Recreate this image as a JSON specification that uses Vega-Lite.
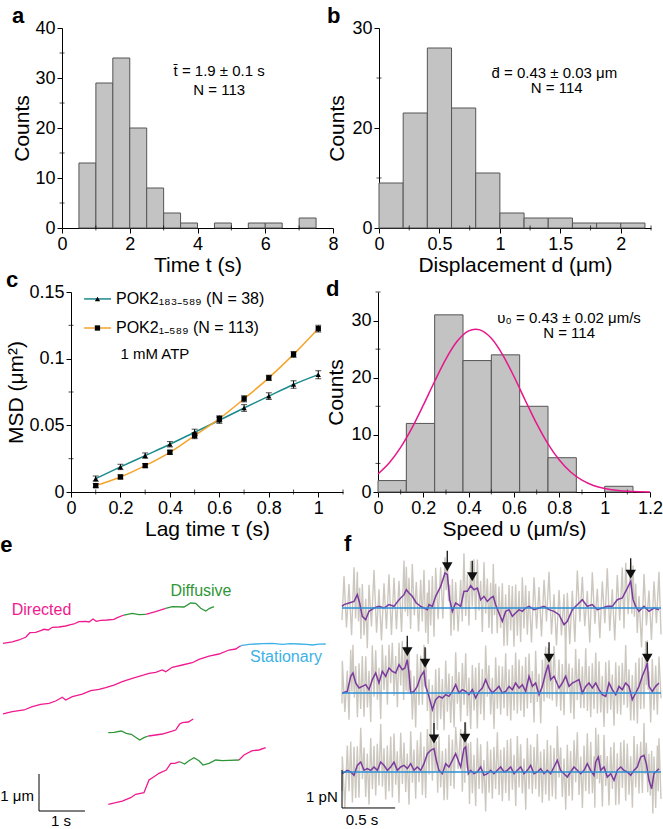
{
"$schema":"https://vega.github.io/schema/vega-lite/v6.json",
"padding":{"left":0,"top":5,"right":0,"bottom":0},
"config":{
 "font":"Liberation Sans",
 "view":{"stroke":null},
 "axis":{"grid":false,"domainColor":"#000","tickColor":"#000","labelColor":"#000","titleColor":"#000","labelFontSize":18,"titleFontSize":21,"titleFontWeight":"normal","tickSize":5,"labelPadding":2,"titlePadding":4,"labelFont":"Liberation Sans","titleFont":"Liberation Sans","labelFlush":false,"labelOverlap":false},
 "axisX":{"titlePadding":1},
 "title":{"fontSize":22,"fontWeight":"bold","anchor":"start","offset":-9,"font":"Liberation Sans","color":"#000"},
 "text":{"font":"Liberation Sans"},
 "tick":{"thickness":1,"color":"#000"}
},
"datasets":{
 "ha":[{"x0":0.5,"x1":1,"n":13},{"x0":1,"x1":1.5,"n":29},{"x0":1.5,"x1":2,"n":34},{"x0":2,"x1":2.5,"n":20},{"x0":2.5,"x1":3,"n":8},{"x0":3,"x1":3.5,"n":3},{"x0":3.5,"x1":4,"n":1},{"x0":4.5,"x1":5,"n":1},{"x0":5.5,"x1":6,"n":1},{"x0":6,"x1":6.5,"n":1},{"x0":7,"x1":7.5,"n":2}],
 "ta":[{"x":4.64,"y":31.4,"s":"t̄ = 1.9 ± 0.1 s"},{"x":4.64,"y":27.6,"s":"N = 113"}],
 "max":[{"v":1},{"v":3},{"v":5},{"v":7}],
 "may":[{"v":5},{"v":15},{"v":25},{"v":35}],
 "hb":[{"x0":0,"x1":0.2,"n":9},{"x0":0.2,"x1":0.4,"n":23},{"x0":0.4,"x1":0.6,"n":36},{"x0":0.6,"x1":0.8,"n":24},{"x0":0.8,"x1":1.0,"n":11},{"x0":1.0,"x1":1.2,"n":3},{"x0":1.2,"x1":1.4,"n":2},{"x0":1.4,"x1":1.6,"n":2},{"x0":1.6,"x1":1.8,"n":1},{"x0":1.8,"x1":2.0,"n":1},{"x0":2.0,"x1":2.2,"n":1}],
 "tb":[{"x":1.45,"y":31,"s":"d̄ = 0.43 ± 0.03 μm"},{"x":1.47,"y":28,"s":"N = 114"}],
 "mbx":[{"v":0.25},{"v":0.75},{"v":1.25},{"v":1.75},{"v":2.25}],
 "mby":[{"v":10},{"v":30}],
 "msd":[
  {"s":"A","t":0.1,"m":0.010,"lo":0.008,"hi":0.012},{"s":"A","t":0.2,"m":0.0188,"lo":0.0168,"hi":0.0208},{"s":"A","t":0.3,"m":0.0273,"lo":0.0253,"hi":0.0293},{"s":"A","t":0.4,"m":0.0358,"lo":0.0338,"hi":0.0378},{"s":"A","t":0.5,"m":0.0448,"lo":0.0425,"hi":0.0471},{"s":"A","t":0.6,"m":0.0538,"lo":0.0515,"hi":0.0561},{"s":"A","t":0.7,"m":0.063,"lo":0.0605,"hi":0.0655},{"s":"A","t":0.8,"m":0.0719,"lo":0.0694,"hi":0.0744},{"s":"A","t":0.9,"m":0.0806,"lo":0.0778,"hi":0.0834},{"s":"A","t":1.0,"m":0.088,"lo":0.085,"hi":0.091},
  {"s":"B","t":0.1,"m":0.0048,"lo":0.0033,"hi":0.0063},{"s":"B","t":0.2,"m":0.0113,"lo":0.0098,"hi":0.0128},{"s":"B","t":0.3,"m":0.0198,"lo":0.0183,"hi":0.0213},{"s":"B","t":0.4,"m":0.0298,"lo":0.0283,"hi":0.0313},{"s":"B","t":0.5,"m":0.0423,"lo":0.0400,"hi":0.0446},{"s":"B","t":0.6,"m":0.055,"lo":0.0528,"hi":0.0572},{"s":"B","t":0.7,"m":0.0699,"lo":0.0676,"hi":0.0722},{"s":"B","t":0.8,"m":0.0856,"lo":0.0836,"hi":0.0876},{"s":"B","t":0.9,"m":0.1032,"lo":0.1010,"hi":0.1054},{"s":"B","t":1.0,"m":0.1225,"lo":0.1200,"hi":0.1250}],
 "lg":[{"s":"A","x0":0.053,"x1":0.162,"xm":0.107,"xt":0.182,"y":0.1448,"txt":"POK2₁₈₃₋₅₈₉  (N = 38)"},{"s":"B","x0":0.053,"x1":0.162,"xm":0.107,"xt":0.182,"y":0.123,"txt":"POK2₁₋₅₈₉ (N = 113)"}],
 "tc":[{"x":0.2,"y":0.1035,"s":"1 mM ATP"}],
 "mcx":[{"v":0.1},{"v":0.3},{"v":0.5},{"v":0.7},{"v":0.9},{"v":1.1}],
 "mcy":[{"v":0.025},{"v":0.075},{"v":0.125}],
 "hd":[{"x0":0,"x1":0.125,"n":2},{"x0":0.125,"x1":0.25,"n":12},{"x0":0.25,"x1":0.375,"n":31},{"x0":0.375,"x1":0.5,"n":23},{"x0":0.5,"x1":0.625,"n":24},{"x0":0.625,"x1":0.75,"n":15},{"x0":0.75,"x1":0.875,"n":6},{"x0":1.0,"x1":1.125,"n":1}],
 "fit":[{"x":0,"y":3.16},{"x":0.05,"y":5.11},{"x":0.1,"y":7.8},{"x":0.15,"y":11.21},{"x":0.2,"y":15.19},{"x":0.25,"y":19.38},{"x":0.3,"y":23.31},{"x":0.35,"y":26.41},{"x":0.4,"y":28.2},{"x":0.43,"y":28.5},{"x":0.45,"y":28.37},{"x":0.5,"y":26.89},{"x":0.55,"y":24.01},{"x":0.6,"y":20.21},{"x":0.65,"y":16.02},{"x":0.7,"y":11.97},{"x":0.75,"y":8.43},{"x":0.8,"y":5.59},{"x":0.85,"y":3.49},{"x":0.9,"y":2.06},{"x":0.95,"y":1.14},{"x":1.0,"y":0.6},{"x":1.05,"y":0.29},{"x":1.1,"y":0.14},{"x":1.15,"y":0.06},{"x":1.2,"y":0.02}],
 "td":[{"x":0.843,"y":30.45,"s":"υ₀ = 0.43 ± 0.02 μm/s"},{"x":0.843,"y":27.8,"s":"N = 114"}],
 "mdx":[{"v":0.1},{"v":0.3},{"v":0.5},{"v":0.7},{"v":0.9},{"v":1.1}],
 "mdy":[{"v":5},{"v":15},{"v":25},{"v":35}],
 "et":[
  {"g":"A","k":"Directed","t":0,"y":4.559},{"g":"A","k":"Directed","t":0.202,"y":4.595},{"g":"A","k":"Directed","t":0.348,"y":4.649},{"g":"A","k":"Directed","t":0.493,"y":4.722},{"g":"A","k":"Directed","t":0.587,"y":4.846},{"g":"A","k":"Directed","t":0.711,"y":4.857},{"g":"A","k":"Directed","t":0.82,"y":4.9},{"g":"A","k":"Directed","t":0.891,"y":4.938},{"g":"A","k":"Directed","t":0.985,"y":4.919},{"g":"A","k":"Directed","t":1.072,"y":4.992},{"g":"A","k":"Directed","t":1.217,"y":5.0},{"g":"A","k":"Directed","t":1.363,"y":5.027},{"g":"A","k":"Directed","t":1.472,"y":5.062},{"g":"A","k":"Directed","t":1.543,"y":5.081},{"g":"A","k":"Directed","t":1.652,"y":5.143},{"g":"A","k":"Directed","t":1.798,"y":5.154},{"g":"A","k":"Directed","t":1.87,"y":5.135},{"g":"A","k":"Directed","t":1.957,"y":5.216},{"g":"A","k":"Directed","t":2.028,"y":5.154},{"g":"A","k":"Directed","t":2.124,"y":5.181},{"g":"A","k":"Directed","t":2.267,"y":5.189},{"g":"A","k":"Directed","t":2.413,"y":5.208},{"g":"A","k":"Directed","t":2.485,"y":5.251},{"g":"A","k":"Directed","t":2.63,"y":5.324},
  {"g":"B","k":"Diffusive","t":2.63,"y":5.324},{"g":"B","k":"Diffusive","t":2.811,"y":5.37},{"g":"B","k":"Diffusive","t":2.957,"y":5.332},{"g":"B","k":"Diffusive","t":3.102,"y":5.343},
  {"g":"C","k":"Directed","t":3.102,"y":5.343},{"g":"C","k":"Directed","t":3.32,"y":5.414},{"g":"C","k":"Directed","t":3.537,"y":5.505},
  {"g":"D","k":"Diffusive","t":3.537,"y":5.505},{"g":"D","k":"Diffusive","t":3.68,"y":5.549},{"g":"D","k":"Diffusive","t":3.935,"y":5.541},{"g":"D","k":"Diffusive","t":4.08,"y":5.649},{"g":"D","k":"Diffusive","t":4.189,"y":5.641},{"g":"D","k":"Diffusive","t":4.298,"y":5.505},{"g":"D","k":"Diffusive","t":4.407,"y":5.432},{"g":"D","k":"Diffusive","t":4.493,"y":5.505},{"g":"D","k":"Diffusive","t":4.587,"y":5.549},
  {"g":"E","k":"Directed","t":0,"y":2.649},{"g":"E","k":"Directed","t":0.202,"y":2.711},{"g":"E","k":"Directed","t":0.457,"y":2.757},{"g":"E","k":"Directed","t":0.637,"y":2.846},{"g":"E","k":"Directed","t":0.82,"y":2.911},{"g":"E","k":"Directed","t":1.0,"y":2.938},{"g":"E","k":"Directed","t":1.146,"y":3.0},{"g":"E","k":"Directed","t":1.289,"y":3.1},{"g":"E","k":"Directed","t":1.363,"y":3.027},{"g":"E","k":"Directed","t":1.507,"y":3.116},{"g":"E","k":"Directed","t":1.724,"y":3.189},{"g":"E","k":"Directed","t":1.907,"y":3.278},{"g":"E","k":"Directed","t":2.087,"y":3.316},{"g":"E","k":"Directed","t":2.233,"y":3.359},{"g":"E","k":"Directed","t":2.413,"y":3.432},{"g":"E","k":"Directed","t":2.593,"y":3.522},{"g":"E","k":"Directed","t":2.811,"y":3.614},{"g":"E","k":"Directed","t":3.065,"y":3.703},{"g":"E","k":"Directed","t":3.174,"y":3.749},{"g":"E","k":"Directed","t":3.32,"y":3.776},{"g":"E","k":"Directed","t":3.463,"y":3.838},{"g":"E","k":"Directed","t":3.537,"y":3.792},{"g":"E","k":"Directed","t":3.68,"y":3.911},{"g":"E","k":"Directed","t":3.898,"y":3.973},{"g":"E","k":"Directed","t":4.115,"y":4.035},{"g":"E","k":"Directed","t":4.261,"y":4.127},{"g":"E","k":"Directed","t":4.478,"y":4.216},{"g":"E","k":"Directed","t":4.696,"y":4.27},{"g":"E","k":"Directed","t":4.913,"y":4.378},{"g":"E","k":"Directed","t":5.059,"y":4.405},{"g":"E","k":"Directed","t":5.167,"y":4.495},
  {"g":"F","k":"Stationary","t":5.167,"y":4.495},{"g":"F","k":"Stationary","t":5.35,"y":4.53},{"g":"F","k":"Stationary","t":5.493,"y":4.541},{"g":"F","k":"Stationary","t":5.65,"y":4.55},{"g":"F","k":"Stationary","t":5.854,"y":4.559},{"g":"F","k":"Stationary","t":6.072,"y":4.532},{"g":"F","k":"Stationary","t":6.25,"y":4.55},{"g":"F","k":"Stationary","t":6.435,"y":4.541},{"g":"F","k":"Stationary","t":6.6,"y":4.53},{"g":"F","k":"Stationary","t":6.724,"y":4.514},{"g":"F","k":"Stationary","t":6.87,"y":4.535},{"g":"F","k":"Stationary","t":7.015,"y":4.541},
  {"g":"G","k":"Diffusive","t":2.289,"y":2.143},{"g":"G","k":"Diffusive","t":2.413,"y":2.154},{"g":"G","k":"Diffusive","t":2.572,"y":2.189},{"g":"G","k":"Diffusive","t":2.68,"y":2.127},{"g":"G","k":"Diffusive","t":2.789,"y":2.1},{"g":"G","k":"Diffusive","t":2.972,"y":1.946},{"g":"G","k":"Diffusive","t":3.065,"y":2.008},{"g":"G","k":"Diffusive","t":3.159,"y":2.054},
  {"g":"H","k":"Directed","t":3.159,"y":2.054},{"g":"H","k":"Directed","t":3.32,"y":2.081},{"g":"H","k":"Directed","t":3.463,"y":2.108},{"g":"H","k":"Directed","t":3.609,"y":2.162},{"g":"H","k":"Directed","t":3.754,"y":2.216},{"g":"H","k":"Directed","t":3.841,"y":2.378},{"g":"H","k":"Directed","t":3.898,"y":2.414},{"g":"H","k":"Directed","t":4.028,"y":2.432},{"g":"H","k":"Directed","t":4.137,"y":2.514},
  {"g":"I","k":"Directed","t":2.289,"y":0.208},{"g":"I","k":"Directed","t":2.45,"y":0.251},{"g":"I","k":"Directed","t":2.593,"y":0.297},{"g":"I","k":"Directed","t":2.776,"y":0.386},{"g":"I","k":"Directed","t":2.885,"y":0.478},{"g":"I","k":"Directed","t":3.065,"y":0.522},{"g":"I","k":"Directed","t":3.174,"y":0.865},{"g":"I","k":"Directed","t":3.283,"y":0.954},{"g":"I","k":"Directed","t":3.391,"y":1.046},{"g":"I","k":"Directed","t":3.55,"y":1.135},{"g":"I","k":"Directed","t":3.646,"y":1.316},{"g":"I","k":"Directed","t":3.739,"y":1.316},{"g":"I","k":"Directed","t":3.841,"y":1.359},
  {"g":"J","k":"Diffusive","t":3.841,"y":1.359},{"g":"J","k":"Diffusive","t":3.95,"y":1.297},{"g":"J","k":"Diffusive","t":4.043,"y":1.386},{"g":"J","k":"Diffusive","t":4.152,"y":1.468},{"g":"J","k":"Diffusive","t":4.261,"y":1.386},{"g":"J","k":"Diffusive","t":4.348,"y":1.27},{"g":"J","k":"Diffusive","t":4.478,"y":1.316},{"g":"J","k":"Diffusive","t":4.624,"y":1.405},{"g":"J","k":"Diffusive","t":4.767,"y":1.386},{"g":"J","k":"Diffusive","t":4.913,"y":1.397},{"g":"J","k":"Diffusive","t":5.13,"y":1.405},
  {"g":"K","k":"Directed","t":5.13,"y":1.405},{"g":"K","k":"Directed","t":5.239,"y":1.541},{"g":"K","k":"Directed","t":5.42,"y":1.657},{"g":"K","k":"Directed","t":5.565,"y":1.676},{"g":"K","k":"Directed","t":5.711,"y":1.738}],
 "el":[{"t":0.837,"y":5.46,"k":"Directed"},{"t":4.304,"y":5.97,"k":"Diffusive"},{"t":6.152,"y":4.19,"k":"Stationary"}],
 "esb":[{"x0":0.783,"x1":0.783,"y0":0.027,"y1":1.027},{"x0":0.783,"x1":1.783,"y0":0.027,"y1":0.027}],
 "etr":[{"t":0.674,"y":0.43,"s":"1 μm"}],
 "etc":[{"t":1.26,"y":-0.24,"s":"1 s"}],
 "fg":[
  {"k":1,"t":0,"v":4.0},{"k":1,"t":0.019,"v":5.154},{"k":1,"t":0.042,"v":3.804},{"k":1,"t":0.066,"v":4.948},{"k":1,"t":0.09,"v":3.598},{"k":1,"t":0.113,"v":5.391},{"k":1,"t":0.128,"v":4.041},{"k":1,"t":0.144,"v":5.267},{"k":1,"t":0.155,"v":3.967},{"k":1,"t":0.166,"v":4.848},{"k":1,"t":0.178,"v":3.498},{"k":1,"t":0.191,"v":4.947},{"k":1,"t":0.207,"v":3.597},{"k":1,"t":0.223,"v":4.559},{"k":1,"t":0.238,"v":3.259},{"k":1,"t":0.254,"v":4.928},{"k":1,"t":0.277,"v":3.828},{"k":1,"t":0.301,"v":5.316},{"k":1,"t":0.325,"v":3.666},{"k":1,"t":0.348,"v":4.81},{"k":1,"t":0.371,"v":3.46},{"k":1,"t":0.395,"v":4.966},{"k":1,"t":0.418,"v":3.766},{"k":1,"t":0.442,"v":5.204},{"k":1,"t":0.465,"v":3.604},{"k":1,"t":0.489,"v":5.11},{"k":1,"t":0.512,"v":3.76},{"k":1,"t":0.536,"v":5.035},{"k":1,"t":0.56,"v":3.685},{"k":1,"t":0.583,"v":5.567},{"k":1,"t":0.594,"v":4.217},{"k":1,"t":0.605,"v":5.398},{"k":1,"t":0.617,"v":4.098},{"k":1,"t":0.63,"v":5.111},{"k":1,"t":0.645,"v":3.761},{"k":1,"t":0.661,"v":5.473},{"k":1,"t":0.68,"v":4.123},{"k":1,"t":0.699,"v":4.998},{"k":1,"t":0.72,"v":3.698},{"k":1,"t":0.74,"v":5.06},{"k":1,"t":0.755,"v":3.96},{"k":1,"t":0.771,"v":5.316},{"k":1,"t":0.787,"v":3.666},{"k":1,"t":0.803,"v":4.722},{"k":1,"t":0.81,"v":3.372},{"k":1,"t":0.818,"v":5.054},{"k":1,"t":0.834,"v":3.854},{"k":1,"t":0.85,"v":5.16},{"k":1,"t":0.865,"v":3.56},{"k":1,"t":0.881,"v":5.373},{"k":1,"t":0.904,"v":4.023},{"k":1,"t":0.928,"v":5.386},{"k":1,"t":0.948,"v":4.036},{"k":1,"t":0.969,"v":5.65},{"k":1,"t":0.98,"v":4.787},{"k":1,"t":0.991,"v":5.593},{"k":1,"t":1.002,"v":4.493},{"k":1,"t":1.013,"v":4.935},{"k":1,"t":1.025,"v":3.585},{"k":1,"t":1.038,"v":5.078},{"k":1,"t":1.053,"v":3.728},{"k":1,"t":1.069,"v":4.998},{"k":1,"t":1.092,"v":3.698},{"k":1,"t":1.116,"v":5.06},{"k":1,"t":1.131,"v":3.96},{"k":1,"t":1.147,"v":5.755},{"k":1,"t":1.163,"v":4.105},{"k":1,"t":1.179,"v":5.205},{"k":1,"t":1.194,"v":3.855},{"k":1,"t":1.21,"v":5.554},{"k":1,"t":1.225,"v":4.354},{"k":1,"t":1.241,"v":5.598},{"k":1,"t":1.257,"v":3.998},{"k":1,"t":1.273,"v":5.592},{"k":1,"t":1.288,"v":4.242},{"k":1,"t":1.304,"v":5.035},{"k":1,"t":1.32,"v":3.685},{"k":1,"t":1.335,"v":5.523},{"k":1,"t":1.351,"v":4.173},{"k":1,"t":1.367,"v":5.091},{"k":1,"t":1.382,"v":3.791},{"k":1,"t":1.398,"v":4.979},{"k":1,"t":1.41,"v":3.629},{"k":1,"t":1.423,"v":5.473},{"k":1,"t":1.434,"v":4.123},{"k":1,"t":1.445,"v":4.954},{"k":1,"t":1.46,"v":3.654},{"k":1,"t":1.476,"v":4.884},{"k":1,"t":1.492,"v":3.784},{"k":1,"t":1.508,"v":4.965},{"k":1,"t":1.523,"v":3.315},{"k":1,"t":1.539,"v":4.678},{"k":1,"t":1.555,"v":3.328},{"k":1,"t":1.571,"v":4.922},{"k":1,"t":1.586,"v":3.722},{"k":1,"t":1.602,"v":4.897},{"k":1,"t":1.617,"v":3.297},{"k":1,"t":1.633,"v":4.934},{"k":1,"t":1.649,"v":3.584},{"k":1,"t":1.665,"v":4.772},{"k":1,"t":1.68,"v":3.422},{"k":1,"t":1.696,"v":5.128},{"k":1,"t":1.711,"v":3.778},{"k":1,"t":1.727,"v":4.916},{"k":1,"t":1.743,"v":3.616},{"k":1,"t":1.759,"v":4.76},{"k":1,"t":1.782,"v":3.41},{"k":1,"t":1.806,"v":5.122},{"k":1,"t":1.83,"v":3.772},{"k":1,"t":1.853,"v":4.866},{"k":1,"t":1.876,"v":3.566},{"k":1,"t":1.9,"v":5.06},{"k":1,"t":1.923,"v":3.96},{"k":1,"t":1.947,"v":5.272},{"k":1,"t":1.97,"v":3.622},{"k":1,"t":1.994,"v":4.678},{"k":1,"t":2.017,"v":3.328},{"k":1,"t":2.041,"v":4.791},{"k":1,"t":2.064,"v":3.591},{"k":1,"t":2.088,"v":4.677},{"k":1,"t":2.103,"v":3.077},{"k":1,"t":2.119,"v":4.715},{"k":1,"t":2.142,"v":3.365},{"k":1,"t":2.166,"v":4.772},{"k":1,"t":2.19,"v":3.422},{"k":1,"t":2.213,"v":5.304},{"k":1,"t":2.237,"v":3.954},{"k":1,"t":2.26,"v":5.135},{"k":1,"t":2.283,"v":3.835},{"k":1,"t":2.307,"v":4.76},{"k":1,"t":2.33,"v":3.41},{"k":1,"t":2.354,"v":5.254},{"k":1,"t":2.378,"v":3.904},{"k":1,"t":2.401,"v":4.822},{"k":1,"t":2.425,"v":3.522},{"k":1,"t":2.448,"v":5.016},{"k":1,"t":2.472,"v":3.916},{"k":1,"t":2.495,"v":5.36},{"k":1,"t":2.518,"v":3.71},{"k":1,"t":2.542,"v":4.81},{"k":1,"t":2.565,"v":3.46},{"k":1,"t":2.589,"v":5.185},{"k":1,"t":2.612,"v":3.985},{"k":1,"t":2.636,"v":5.379},{"k":1,"t":2.652,"v":3.779},{"k":1,"t":2.668,"v":5.505},{"k":1,"t":2.691,"v":4.155},{"k":1,"t":2.715,"v":5.518},{"k":1,"t":2.726,"v":4.168},{"k":1,"t":2.737,"v":5.435},{"k":1,"t":2.75,"v":4.085},{"k":1,"t":2.762,"v":4.96},{"k":1,"t":2.777,"v":3.66},{"k":1,"t":2.793,"v":4.628},{"k":1,"t":2.817,"v":3.278},{"k":1,"t":2.84,"v":5.21},{"k":1,"t":2.863,"v":3.86},{"k":1,"t":2.887,"v":4.778},{"k":1,"t":2.91,"v":3.478},{"k":1,"t":2.934,"v":5.016},{"k":1,"t":2.957,"v":3.916},{"k":1,"t":2.981,"v":5.272},{"k":1,"t":3.0,"v":3.622},
  {"k":2,"t":0,"v":1.8},{"k":2,"t":0.003,"v":2.929},{"k":2,"t":0.027,"v":1.579},{"k":2,"t":0.05,"v":2.673},{"k":2,"t":0.066,"v":1.373},{"k":2,"t":0.082,"v":3.218},{"k":2,"t":0.093,"v":2.118},{"k":2,"t":0.103,"v":3.35},{"k":2,"t":0.116,"v":1.955},{"k":2,"t":0.129,"v":2.792},{"k":2,"t":0.145,"v":1.442},{"k":2,"t":0.16,"v":2.861},{"k":2,"t":0.176,"v":1.661},{"k":2,"t":0.191,"v":3.054},{"k":2,"t":0.207,"v":1.454},{"k":2,"t":0.223,"v":3.048},{"k":2,"t":0.239,"v":1.698},{"k":2,"t":0.254,"v":2.667},{"k":2,"t":0.27,"v":1.317},{"k":2,"t":0.285,"v":3.33},{"k":2,"t":0.301,"v":1.98},{"k":2,"t":0.317,"v":3.205},{"k":2,"t":0.333,"v":1.905},{"k":2,"t":0.348,"v":2.742},{"k":2,"t":0.364,"v":1.392},{"k":2,"t":0.379,"v":3.35},{"k":2,"t":0.395,"v":2.149},{"k":2,"t":0.411,"v":3.068},{"k":2,"t":0.427,"v":1.768},{"k":2,"t":0.442,"v":3.35},{"k":2,"t":0.458,"v":2.337},{"k":2,"t":0.473,"v":3.4},{"k":2,"t":0.489,"v":1.999},{"k":2,"t":0.505,"v":3.055},{"k":2,"t":0.521,"v":1.705},{"k":2,"t":0.536,"v":3.4},{"k":2,"t":0.552,"v":2.275},{"k":2,"t":0.567,"v":3.45},{"k":2,"t":0.58,"v":1.893},{"k":2,"t":0.592,"v":3.3},{"k":2,"t":0.603,"v":2.137},{"k":2,"t":0.614,"v":3.456},{"k":2,"t":0.622,"v":2.106},{"k":2,"t":0.63,"v":3.3},{"k":2,"t":0.638,"v":2.155},{"k":2,"t":0.646,"v":2.679},{"k":2,"t":0.662,"v":1.379},{"k":2,"t":0.677,"v":2.523},{"k":2,"t":0.693,"v":1.173},{"k":2,"t":0.708,"v":3.104},{"k":2,"t":0.724,"v":1.754},{"k":2,"t":0.74,"v":3.068},{"k":2,"t":0.756,"v":1.768},{"k":2,"t":0.771,"v":3.349},{"k":2,"t":0.779,"v":2.249},{"k":2,"t":0.787,"v":3.254},{"k":2,"t":0.803,"v":1.604},{"k":2,"t":0.818,"v":2.441},{"k":2,"t":0.834,"v":1.091},{"k":2,"t":0.85,"v":2.29},{"k":2,"t":0.866,"v":1.09},{"k":2,"t":0.881,"v":2.704},{"k":2,"t":0.897,"v":1.104},{"k":2,"t":0.912,"v":2.741},{"k":2,"t":0.928,"v":1.391},{"k":2,"t":0.944,"v":2.447},{"k":2,"t":0.96,"v":1.097},{"k":2,"t":0.975,"v":2.935},{"k":2,"t":0.991,"v":1.585},{"k":2,"t":1.006,"v":2.591},{"k":2,"t":1.022,"v":1.291},{"k":2,"t":1.038,"v":2.523},{"k":2,"t":1.054,"v":1.173},{"k":2,"t":1.069,"v":3.148},{"k":2,"t":1.085,"v":1.798},{"k":2,"t":1.1,"v":2.629},{"k":2,"t":1.116,"v":1.329},{"k":2,"t":1.132,"v":2.867},{"k":2,"t":1.148,"v":1.767},{"k":2,"t":1.163,"v":3.123},{"k":2,"t":1.179,"v":1.473},{"k":2,"t":1.194,"v":2.485},{"k":2,"t":1.21,"v":1.135},{"k":2,"t":1.226,"v":2.817},{"k":2,"t":1.242,"v":1.617},{"k":2,"t":1.257,"v":2.747},{"k":2,"t":1.273,"v":1.147},{"k":2,"t":1.288,"v":2.873},{"k":2,"t":1.304,"v":1.523},{"k":2,"t":1.32,"v":2.711},{"k":2,"t":1.336,"v":1.361},{"k":2,"t":1.351,"v":3.33},{"k":2,"t":1.367,"v":1.98},{"k":2,"t":1.382,"v":2.811},{"k":2,"t":1.398,"v":1.511},{"k":2,"t":1.414,"v":2.479},{"k":2,"t":1.43,"v":1.129},{"k":2,"t":1.445,"v":3.017},{"k":2,"t":1.461,"v":1.667},{"k":2,"t":1.476,"v":2.804},{"k":2,"t":1.492,"v":1.504},{"k":2,"t":1.508,"v":2.779},{"k":2,"t":1.524,"v":1.679},{"k":2,"t":1.539,"v":3.123},{"k":2,"t":1.555,"v":1.473},{"k":2,"t":1.571,"v":2.704},{"k":2,"t":1.587,"v":1.354},{"k":2,"t":1.602,"v":2.817},{"k":2,"t":1.618,"v":1.617},{"k":2,"t":1.633,"v":3.142},{"k":2,"t":1.649,"v":1.542},{"k":2,"t":1.665,"v":2.961},{"k":2,"t":1.681,"v":1.611},{"k":2,"t":1.696,"v":2.798},{"k":2,"t":1.712,"v":1.448},{"k":2,"t":1.727,"v":3.023},{"k":2,"t":1.743,"v":1.673},{"k":2,"t":1.759,"v":3.118},{"k":2,"t":1.775,"v":1.818},{"k":2,"t":1.79,"v":2.654},{"k":2,"t":1.806,"v":1.304},{"k":2,"t":1.821,"v":3.192},{"k":2,"t":1.837,"v":1.842},{"k":2,"t":1.853,"v":2.585},{"k":2,"t":1.869,"v":1.285},{"k":2,"t":1.884,"v":2.954},{"k":2,"t":1.9,"v":1.854},{"k":2,"t":1.915,"v":3.3},{"k":2,"t":1.928,"v":1.955},{"k":2,"t":1.94,"v":3.275},{"k":2,"t":1.951,"v":1.925},{"k":2,"t":1.962,"v":3.08},{"k":2,"t":1.978,"v":1.88},{"k":2,"t":1.994,"v":3.318},{"k":2,"t":2.018,"v":1.718},{"k":2,"t":2.041,"v":2.961},{"k":2,"t":2.057,"v":1.611},{"k":2,"t":2.072,"v":2.842},{"k":2,"t":2.088,"v":1.492},{"k":2,"t":2.103,"v":3.35},{"k":2,"t":2.119,"v":2.068},{"k":2,"t":2.135,"v":2.854},{"k":2,"t":2.151,"v":1.554},{"k":2,"t":2.166,"v":2.742},{"k":2,"t":2.182,"v":1.392},{"k":2,"t":2.197,"v":3.236},{"k":2,"t":2.213,"v":1.886},{"k":2,"t":2.229,"v":2.98},{"k":2,"t":2.245,"v":1.68},{"k":2,"t":2.26,"v":2.779},{"k":2,"t":2.276,"v":1.679},{"k":2,"t":2.292,"v":3.254},{"k":2,"t":2.308,"v":1.604},{"k":2,"t":2.323,"v":2.792},{"k":2,"t":2.339,"v":1.442},{"k":2,"t":2.354,"v":2.861},{"k":2,"t":2.37,"v":1.661},{"k":2,"t":2.386,"v":3.142},{"k":2,"t":2.402,"v":1.542},{"k":2,"t":2.417,"v":2.917},{"k":2,"t":2.433,"v":1.567},{"k":2,"t":2.448,"v":2.535},{"k":2,"t":2.464,"v":1.185},{"k":2,"t":2.48,"v":2.891},{"k":2,"t":2.496,"v":1.541},{"k":2,"t":2.511,"v":2.942},{"k":2,"t":2.527,"v":1.642},{"k":2,"t":2.542,"v":2.567},{"k":2,"t":2.558,"v":1.217},{"k":2,"t":2.574,"v":2.885},{"k":2,"t":2.59,"v":1.535},{"k":2,"t":2.605,"v":2.804},{"k":2,"t":2.621,"v":1.504},{"k":2,"t":2.636,"v":2.867},{"k":2,"t":2.652,"v":1.767},{"k":2,"t":2.668,"v":3.342},{"k":2,"t":2.684,"v":1.692},{"k":2,"t":2.699,"v":2.704},{"k":2,"t":2.715,"v":1.354},{"k":2,"t":2.73,"v":2.554},{"k":2,"t":2.746,"v":1.354},{"k":2,"t":2.762,"v":2.879},{"k":2,"t":2.778,"v":1.279},{"k":2,"t":2.793,"v":3.004},{"k":2,"t":2.809,"v":1.654},{"k":2,"t":2.824,"v":3.018},{"k":2,"t":2.84,"v":1.668},{"k":2,"t":2.856,"v":3.45},{"k":2,"t":2.863,"v":2.287},{"k":2,"t":2.871,"v":3.468},{"k":2,"t":2.879,"v":2.168},{"k":2,"t":2.887,"v":2.654},{"k":2,"t":2.903,"v":1.304},{"k":2,"t":2.918,"v":2.973},{"k":2,"t":2.934,"v":1.623},{"k":2,"t":2.95,"v":2.804},{"k":2,"t":2.966,"v":1.504},{"k":2,"t":2.981,"v":3.042},{"k":2,"t":3.0,"v":1.942},
  {"k":3,"t":0,"v":-0.5},{"k":3,"t":0.003,"v":0.406},{"k":3,"t":0.027,"v":-0.944},{"k":3,"t":0.05,"v":0.694},{"k":3,"t":0.066,"v":-0.506},{"k":3,"t":0.082,"v":0.8},{"k":3,"t":0.098,"v":-0.8},{"k":3,"t":0.113,"v":0.662},{"k":3,"t":0.129,"v":-0.688},{"k":3,"t":0.144,"v":0.675},{"k":3,"t":0.16,"v":-0.675},{"k":3,"t":0.176,"v":1.163},{"k":3,"t":0.192,"v":-0.187},{"k":3,"t":0.207,"v":0.644},{"k":3,"t":0.223,"v":-0.656},{"k":3,"t":0.238,"v":0.488},{"k":3,"t":0.254,"v":-0.862},{"k":3,"t":0.27,"v":0.894},{"k":3,"t":0.286,"v":-0.456},{"k":3,"t":0.301,"v":0.682},{"k":3,"t":0.317,"v":-0.618},{"k":3,"t":0.332,"v":0.744},{"k":3,"t":0.348,"v":-0.356},{"k":3,"t":0.364,"v":1.263},{"k":3,"t":0.38,"v":-0.387},{"k":3,"t":0.395,"v":0.625},{"k":3,"t":0.411,"v":-0.725},{"k":3,"t":0.426,"v":0.694},{"k":3,"t":0.442,"v":-0.506},{"k":3,"t":0.458,"v":0.932},{"k":3,"t":0.474,"v":-0.668},{"k":3,"t":0.489,"v":1.013},{"k":3,"t":0.505,"v":-0.337},{"k":3,"t":0.52,"v":0.544},{"k":3,"t":0.536,"v":-0.806},{"k":3,"t":0.552,"v":1.032},{"k":3,"t":0.568,"v":-0.318},{"k":3,"t":0.583,"v":0.775},{"k":3,"t":0.599,"v":-0.525},{"k":3,"t":0.614,"v":0.488},{"k":3,"t":0.63,"v":-0.862},{"k":3,"t":0.646,"v":1.069},{"k":3,"t":0.662,"v":-0.281},{"k":3,"t":0.677,"v":0.594},{"k":3,"t":0.693,"v":-0.706},{"k":3,"t":0.708,"v":0.832},{"k":3,"t":0.724,"v":-0.268},{"k":3,"t":0.74,"v":1.044},{"k":3,"t":0.756,"v":-0.606},{"k":3,"t":0.771,"v":0.669},{"k":3,"t":0.787,"v":-0.681},{"k":3,"t":0.803,"v":1.132},{"k":3,"t":0.819,"v":-0.068},{"k":3,"t":0.834,"v":1.37},{"k":3,"t":0.85,"v":-0.23},{"k":3,"t":0.865,"v":1.364},{"k":3,"t":0.876,"v":0.014},{"k":3,"t":0.887,"v":0.807},{"k":3,"t":0.9,"v":-0.543},{"k":3,"t":0.912,"v":0.944},{"k":3,"t":0.928,"v":-0.406},{"k":3,"t":0.944,"v":0.556},{"k":3,"t":0.96,"v":-0.744},{"k":3,"t":0.975,"v":0.619},{"k":3,"t":0.991,"v":-0.731},{"k":3,"t":1.006,"v":0.982},{"k":3,"t":1.022,"v":-0.368},{"k":3,"t":1.038,"v":0.857},{"k":3,"t":1.054,"v":-0.443},{"k":3,"t":1.069,"v":1.182},{"k":3,"t":1.093,"v":0.082},{"k":3,"t":1.116,"v":1.132},{"k":3,"t":1.132,"v":-0.518},{"k":3,"t":1.147,"v":1.064},{"k":3,"t":1.155,"v":-0.286},{"k":3,"t":1.163,"v":1.308},{"k":3,"t":1.176,"v":0.108},{"k":3,"t":1.188,"v":0.756},{"k":3,"t":1.199,"v":-0.844},{"k":3,"t":1.21,"v":0.794},{"k":3,"t":1.226,"v":-0.556},{"k":3,"t":1.241,"v":0.456},{"k":3,"t":1.257,"v":-0.894},{"k":3,"t":1.273,"v":0.9},{"k":3,"t":1.289,"v":-0.45},{"k":3,"t":1.304,"v":0.732},{"k":3,"t":1.32,"v":-0.568},{"k":3,"t":1.335,"v":0.312},{"k":3,"t":1.351,"v":-1.038},{"k":3,"t":1.367,"v":0.806},{"k":3,"t":1.383,"v":-0.544},{"k":3,"t":1.398,"v":0.594},{"k":3,"t":1.414,"v":-0.706},{"k":3,"t":1.429,"v":0.656},{"k":3,"t":1.445,"v":-0.444},{"k":3,"t":1.461,"v":1.044},{"k":3,"t":1.477,"v":-0.606},{"k":3,"t":1.492,"v":0.582},{"k":3,"t":1.508,"v":-0.768},{"k":3,"t":1.524,"v":0.65},{"k":3,"t":1.54,"v":-0.55},{"k":3,"t":1.555,"v":0.844},{"k":3,"t":1.571,"v":-0.756},{"k":3,"t":1.586,"v":0.882},{"k":3,"t":1.602,"v":-0.468},{"k":3,"t":1.618,"v":0.456},{"k":3,"t":1.634,"v":-0.894},{"k":3,"t":1.649,"v":0.944},{"k":3,"t":1.665,"v":-0.406},{"k":3,"t":1.68,"v":0.732},{"k":3,"t":1.696,"v":-0.568},{"k":3,"t":1.712,"v":0.356},{"k":3,"t":1.728,"v":-0.994},{"k":3,"t":1.743,"v":0.894},{"k":3,"t":1.759,"v":-0.456},{"k":3,"t":1.774,"v":0.725},{"k":3,"t":1.79,"v":-0.575},{"k":3,"t":1.806,"v":0.656},{"k":3,"t":1.822,"v":-0.444},{"k":3,"t":1.837,"v":1.0},{"k":3,"t":1.853,"v":-0.65},{"k":3,"t":1.868,"v":0.538},{"k":3,"t":1.884,"v":-0.812},{"k":3,"t":1.9,"v":0.606},{"k":3,"t":1.916,"v":-0.594},{"k":3,"t":1.931,"v":0.844},{"k":3,"t":1.947,"v":-0.756},{"k":3,"t":1.962,"v":0.706},{"k":3,"t":1.978,"v":-0.644},{"k":3,"t":1.994,"v":0.632},{"k":3,"t":2.01,"v":-0.718},{"k":3,"t":2.025,"v":1.207},{"k":3,"t":2.041,"v":-0.143},{"k":3,"t":2.056,"v":0.644},{"k":3,"t":2.072,"v":-0.656},{"k":3,"t":2.088,"v":0.356},{"k":3,"t":2.104,"v":-0.994},{"k":3,"t":2.119,"v":0.718},{"k":3,"t":2.135,"v":-0.632},{"k":3,"t":2.15,"v":0.55},{"k":3,"t":2.166,"v":-0.75},{"k":3,"t":2.182,"v":0.832},{"k":3,"t":2.198,"v":-0.268},{"k":3,"t":2.213,"v":1.044},{"k":3,"t":2.229,"v":-0.606},{"k":3,"t":2.245,"v":0.406},{"k":3,"t":2.261,"v":-0.944},{"k":3,"t":2.276,"v":0.694},{"k":3,"t":2.292,"v":-0.506},{"k":3,"t":2.307,"v":1.019},{"k":3,"t":2.323,"v":-0.581},{"k":3,"t":2.339,"v":0.794},{"k":3,"t":2.355,"v":-0.556},{"k":3,"t":2.37,"v":0.412},{"k":3,"t":2.378,"v":-0.938},{"k":3,"t":2.386,"v":1.163},{"k":3,"t":2.399,"v":-0.187},{"k":3,"t":2.411,"v":0.995},{"k":3,"t":2.422,"v":-0.305},{"k":3,"t":2.433,"v":0.444},{"k":3,"t":2.449,"v":-0.906},{"k":3,"t":2.464,"v":0.982},{"k":3,"t":2.48,"v":-0.368},{"k":3,"t":2.495,"v":0.418},{"k":3,"t":2.511,"v":-0.882},{"k":3,"t":2.527,"v":0.656},{"k":3,"t":2.543,"v":-0.444},{"k":3,"t":2.558,"v":0.781},{"k":3,"t":2.574,"v":-0.869},{"k":3,"t":2.589,"v":0.494},{"k":3,"t":2.605,"v":-0.856},{"k":3,"t":2.621,"v":0.782},{"k":3,"t":2.637,"v":-0.418},{"k":3,"t":2.652,"v":0.844},{"k":3,"t":2.668,"v":-0.756},{"k":3,"t":2.683,"v":0.75},{"k":3,"t":2.699,"v":-0.6},{"k":3,"t":2.715,"v":0.412},{"k":3,"t":2.731,"v":-0.938},{"k":3,"t":2.746,"v":0.944},{"k":3,"t":2.762,"v":-0.406},{"k":3,"t":2.777,"v":0.732},{"k":3,"t":2.793,"v":-0.568},{"k":3,"t":2.809,"v":0.795},{"k":3,"t":2.825,"v":-0.555},{"k":3,"t":2.84,"v":1.289},{"k":3,"t":2.851,"v":-0.061},{"k":3,"t":2.862,"v":0.769},{"k":3,"t":2.875,"v":-0.531},{"k":3,"t":2.887,"v":0.481},{"k":3,"t":2.9,"v":-0.619},{"k":3,"t":2.912,"v":0.561},{"k":3,"t":2.923,"v":-1.089},{"k":3,"t":2.934,"v":0.406},{"k":3,"t":2.95,"v":-0.944},{"k":3,"t":2.966,"v":0.694},{"k":3,"t":2.974,"v":-0.506},{"k":3,"t":2.981,"v":0.888},{"k":3,"t":3.0,"v":-0.712}],
 "fp":[
  {"k":1,"t":0.0,"v":4.36},{"k":1,"t":0.019,"v":4.404},{"k":1,"t":0.066,"v":4.448},{"k":1,"t":0.113,"v":4.491},{"k":1,"t":0.144,"v":4.667},{"k":1,"t":0.166,"v":4.448},{"k":1,"t":0.191,"v":4.097},{"k":1,"t":0.223,"v":4.009},{"k":1,"t":0.254,"v":4.228},{"k":1,"t":0.301,"v":4.316},{"k":1,"t":0.348,"v":4.36},{"k":1,"t":0.395,"v":4.316},{"k":1,"t":0.442,"v":4.404},{"k":1,"t":0.489,"v":4.36},{"k":1,"t":0.536,"v":4.535},{"k":1,"t":0.583,"v":4.667},{"k":1,"t":0.605,"v":4.798},{"k":1,"t":0.63,"v":4.711},{"k":1,"t":0.661,"v":4.623},{"k":1,"t":0.699,"v":4.448},{"k":1,"t":0.74,"v":4.36},{"k":1,"t":0.771,"v":4.316},{"k":1,"t":0.803,"v":4.272},{"k":1,"t":0.818,"v":4.404},{"k":1,"t":0.85,"v":4.36},{"k":1,"t":0.881,"v":4.623},{"k":1,"t":0.928,"v":4.886},{"k":1,"t":0.969,"v":5.237},{"k":1,"t":0.991,"v":5.193},{"k":1,"t":1.013,"v":4.535},{"k":1,"t":1.038,"v":4.228},{"k":1,"t":1.069,"v":4.448},{"k":1,"t":1.116,"v":4.36},{"k":1,"t":1.147,"v":4.755},{"k":1,"t":1.179,"v":4.755},{"k":1,"t":1.21,"v":4.904},{"k":1,"t":1.241,"v":4.798},{"k":1,"t":1.273,"v":4.842},{"k":1,"t":1.304,"v":4.535},{"k":1,"t":1.335,"v":4.623},{"k":1,"t":1.367,"v":4.491},{"k":1,"t":1.398,"v":4.579},{"k":1,"t":1.423,"v":4.623},{"k":1,"t":1.445,"v":4.404},{"k":1,"t":1.476,"v":4.184},{"k":1,"t":1.508,"v":3.965},{"k":1,"t":1.539,"v":4.228},{"k":1,"t":1.571,"v":4.272},{"k":1,"t":1.602,"v":4.097},{"k":1,"t":1.633,"v":4.184},{"k":1,"t":1.665,"v":4.272},{"k":1,"t":1.696,"v":4.228},{"k":1,"t":1.727,"v":4.316},{"k":1,"t":1.759,"v":4.36},{"k":1,"t":1.806,"v":4.272},{"k":1,"t":1.853,"v":4.316},{"k":1,"t":1.9,"v":4.36},{"k":1,"t":1.947,"v":4.272},{"k":1,"t":1.994,"v":4.228},{"k":1,"t":2.041,"v":4.141},{"k":1,"t":2.088,"v":3.877},{"k":1,"t":2.119,"v":3.965},{"k":1,"t":2.166,"v":4.272},{"k":1,"t":2.213,"v":4.404},{"k":1,"t":2.26,"v":4.535},{"k":1,"t":2.307,"v":4.36},{"k":1,"t":2.354,"v":4.404},{"k":1,"t":2.401,"v":4.272},{"k":1,"t":2.448,"v":4.316},{"k":1,"t":2.495,"v":4.36},{"k":1,"t":2.542,"v":4.36},{"k":1,"t":2.589,"v":4.535},{"k":1,"t":2.636,"v":4.579},{"k":1,"t":2.668,"v":4.755},{"k":1,"t":2.715,"v":5.018},{"k":1,"t":2.737,"v":4.535},{"k":1,"t":2.762,"v":4.36},{"k":1,"t":2.793,"v":4.228},{"k":1,"t":2.84,"v":4.36},{"k":1,"t":2.887,"v":4.228},{"k":1,"t":2.934,"v":4.316},{"k":1,"t":2.981,"v":4.272},
  {"k":2,"t":0.003,"v":2.079},{"k":2,"t":0.05,"v":2.123},{"k":2,"t":0.082,"v":2.518},{"k":2,"t":0.103,"v":2.605},{"k":2,"t":0.129,"v":2.342},{"k":2,"t":0.16,"v":2.211},{"k":2,"t":0.191,"v":2.254},{"k":2,"t":0.223,"v":2.298},{"k":2,"t":0.254,"v":2.167},{"k":2,"t":0.285,"v":2.43},{"k":2,"t":0.317,"v":2.605},{"k":2,"t":0.348,"v":2.342},{"k":2,"t":0.379,"v":2.649},{"k":2,"t":0.411,"v":2.518},{"k":2,"t":0.442,"v":2.737},{"k":2,"t":0.473,"v":2.649},{"k":2,"t":0.505,"v":2.605},{"k":2,"t":0.536,"v":2.825},{"k":2,"t":0.567,"v":2.693},{"k":2,"t":0.592,"v":2.737},{"k":2,"t":0.614,"v":2.956},{"k":2,"t":0.63,"v":2.605},{"k":2,"t":0.646,"v":2.079},{"k":2,"t":0.677,"v":2.123},{"k":2,"t":0.708,"v":2.254},{"k":2,"t":0.74,"v":2.518},{"k":2,"t":0.771,"v":2.649},{"k":2,"t":0.787,"v":2.254},{"k":2,"t":0.818,"v":1.991},{"k":2,"t":0.85,"v":1.64},{"k":2,"t":0.881,"v":1.904},{"k":2,"t":0.912,"v":1.991},{"k":2,"t":0.944,"v":1.947},{"k":2,"t":0.975,"v":2.035},{"k":2,"t":1.006,"v":1.991},{"k":2,"t":1.038,"v":2.123},{"k":2,"t":1.069,"v":2.298},{"k":2,"t":1.1,"v":2.079},{"k":2,"t":1.132,"v":2.167},{"k":2,"t":1.163,"v":2.123},{"k":2,"t":1.194,"v":2.035},{"k":2,"t":1.226,"v":2.167},{"k":2,"t":1.257,"v":1.947},{"k":2,"t":1.288,"v":2.123},{"k":2,"t":1.32,"v":2.211},{"k":2,"t":1.351,"v":2.43},{"k":2,"t":1.382,"v":2.211},{"k":2,"t":1.414,"v":2.079},{"k":2,"t":1.445,"v":2.167},{"k":2,"t":1.476,"v":2.254},{"k":2,"t":1.508,"v":2.079},{"k":2,"t":1.539,"v":2.123},{"k":2,"t":1.571,"v":2.254},{"k":2,"t":1.602,"v":2.167},{"k":2,"t":1.633,"v":2.342},{"k":2,"t":1.665,"v":2.211},{"k":2,"t":1.696,"v":2.298},{"k":2,"t":1.727,"v":2.123},{"k":2,"t":1.759,"v":2.518},{"k":2,"t":1.79,"v":2.254},{"k":2,"t":1.821,"v":2.342},{"k":2,"t":1.853,"v":2.035},{"k":2,"t":1.884,"v":2.254},{"k":2,"t":1.915,"v":2.605},{"k":2,"t":1.94,"v":2.825},{"k":2,"t":1.962,"v":2.43},{"k":2,"t":1.994,"v":2.518},{"k":2,"t":2.041,"v":2.211},{"k":2,"t":2.072,"v":2.342},{"k":2,"t":2.103,"v":2.518},{"k":2,"t":2.135,"v":2.254},{"k":2,"t":2.166,"v":2.342},{"k":2,"t":2.197,"v":2.386},{"k":2,"t":2.229,"v":2.43},{"k":2,"t":2.26,"v":2.079},{"k":2,"t":2.292,"v":2.254},{"k":2,"t":2.323,"v":2.342},{"k":2,"t":2.354,"v":2.211},{"k":2,"t":2.386,"v":2.342},{"k":2,"t":2.417,"v":2.167},{"k":2,"t":2.448,"v":2.035},{"k":2,"t":2.48,"v":1.991},{"k":2,"t":2.511,"v":2.342},{"k":2,"t":2.542,"v":2.167},{"k":2,"t":2.574,"v":2.035},{"k":2,"t":2.605,"v":2.254},{"k":2,"t":2.636,"v":2.167},{"k":2,"t":2.668,"v":2.342},{"k":2,"t":2.699,"v":2.254},{"k":2,"t":2.73,"v":1.904},{"k":2,"t":2.762,"v":2.079},{"k":2,"t":2.793,"v":2.254},{"k":2,"t":2.824,"v":2.518},{"k":2,"t":2.856,"v":2.737},{"k":2,"t":2.871,"v":2.868},{"k":2,"t":2.887,"v":2.254},{"k":2,"t":2.918,"v":2.123},{"k":2,"t":2.95,"v":2.254},{"k":2,"t":2.981,"v":2.342},
  {"k":3,"t":0.003,"v":-0.044},{"k":3,"t":0.05,"v":0.044},{"k":3,"t":0.082,"v":0},{"k":3,"t":0.113,"v":-0.088},{"k":3,"t":0.144,"v":0.175},{"k":3,"t":0.176,"v":0.263},{"k":3,"t":0.207,"v":0.044},{"k":3,"t":0.238,"v":0.088},{"k":3,"t":0.27,"v":0.044},{"k":3,"t":0.301,"v":0.132},{"k":3,"t":0.332,"v":0.044},{"k":3,"t":0.364,"v":0.263},{"k":3,"t":0.395,"v":0.175},{"k":3,"t":0.426,"v":0.044},{"k":3,"t":0.458,"v":0.132},{"k":3,"t":0.489,"v":0.263},{"k":3,"t":0.52,"v":0.044},{"k":3,"t":0.552,"v":0.132},{"k":3,"t":0.583,"v":0.175},{"k":3,"t":0.614,"v":0.088},{"k":3,"t":0.646,"v":0.219},{"k":3,"t":0.677,"v":0.044},{"k":3,"t":0.708,"v":0.132},{"k":3,"t":0.74,"v":0.044},{"k":3,"t":0.771,"v":0.219},{"k":3,"t":0.803,"v":0.482},{"k":3,"t":0.834,"v":0.57},{"k":3,"t":0.865,"v":0.614},{"k":3,"t":0.887,"v":0.307},{"k":3,"t":0.912,"v":0.044},{"k":3,"t":0.944,"v":-0.044},{"k":3,"t":0.975,"v":0.219},{"k":3,"t":1.006,"v":0.132},{"k":3,"t":1.038,"v":0.307},{"k":3,"t":1.069,"v":0.482},{"k":3,"t":1.116,"v":0.132},{"k":3,"t":1.147,"v":0.614},{"k":3,"t":1.163,"v":0.658},{"k":3,"t":1.188,"v":-0.044},{"k":3,"t":1.21,"v":0.044},{"k":3,"t":1.241,"v":-0.044},{"k":3,"t":1.273,"v":0},{"k":3,"t":1.304,"v":0.132},{"k":3,"t":1.335,"v":-0.088},{"k":3,"t":1.367,"v":-0.044},{"k":3,"t":1.398,"v":0.044},{"k":3,"t":1.429,"v":-0.044},{"k":3,"t":1.461,"v":0.044},{"k":3,"t":1.492,"v":0.132},{"k":3,"t":1.524,"v":0},{"k":3,"t":1.555,"v":0.044},{"k":3,"t":1.586,"v":0.132},{"k":3,"t":1.618,"v":-0.044},{"k":3,"t":1.649,"v":0.044},{"k":3,"t":1.68,"v":0.132},{"k":3,"t":1.712,"v":-0.044},{"k":3,"t":1.743,"v":0.044},{"k":3,"t":1.774,"v":0.175},{"k":3,"t":1.806,"v":-0.044},{"k":3,"t":1.837,"v":0},{"k":3,"t":1.868,"v":0.088},{"k":3,"t":1.9,"v":-0.044},{"k":3,"t":1.931,"v":0.044},{"k":3,"t":1.962,"v":-0.044},{"k":3,"t":1.994,"v":0.132},{"k":3,"t":2.025,"v":0.307},{"k":3,"t":2.056,"v":0.044},{"k":3,"t":2.088,"v":-0.044},{"k":3,"t":2.119,"v":-0.132},{"k":3,"t":2.15,"v":0},{"k":3,"t":2.182,"v":0.132},{"k":3,"t":2.213,"v":0.044},{"k":3,"t":2.245,"v":-0.044},{"k":3,"t":2.276,"v":0.044},{"k":3,"t":2.307,"v":0.219},{"k":3,"t":2.339,"v":0.044},{"k":3,"t":2.37,"v":-0.088},{"k":3,"t":2.386,"v":0.263},{"k":3,"t":2.411,"v":0.395},{"k":3,"t":2.433,"v":0.044},{"k":3,"t":2.464,"v":0.132},{"k":3,"t":2.495,"v":-0.132},{"k":3,"t":2.527,"v":-0.044},{"k":3,"t":2.558,"v":-0.219},{"k":3,"t":2.589,"v":0.044},{"k":3,"t":2.621,"v":0.132},{"k":3,"t":2.652,"v":0.044},{"k":3,"t":2.683,"v":0},{"k":3,"t":2.715,"v":-0.088},{"k":3,"t":2.746,"v":0.044},{"k":3,"t":2.777,"v":0.132},{"k":3,"t":2.809,"v":0.395},{"k":3,"t":2.84,"v":0.439},{"k":3,"t":2.862,"v":0.219},{"k":3,"t":2.887,"v":-0.219},{"k":3,"t":2.912,"v":-0.439},{"k":3,"t":2.934,"v":-0.044},{"k":3,"t":2.966,"v":0.044},{"k":3,"t":2.981,"v":0.088}],
 "fb":[{"y":4.316},{"y":2.079},{"y":0}],
 "fa":[{"t":0.99,"y":5.271},{"t":1.225,"y":5.008},{"t":2.715,"y":5.071},{"t":0.614,"y":3.034},{"t":0.781,"y":2.729},{"t":1.947,"y":2.861},{"t":2.871,"y":2.861},{"t":0.865,"y":0.737},{"t":1.157,"y":0.755}],
 "fsb":[{"x0":0,"x1":0,"y0":-0.947,"y1":0.053},{"x0":0,"x1":0.5,"y0":-0.947,"y1":-0.947}],
 "ftr":[{"t":-0.04,"y":-0.66,"s":"1 pN"}],
 "ftc":[{"t":0.188,"y":-1.263,"s":"0.5 s"}]
},
"spacing":-6,
"vconcat":[
 {"bounds":"flush","spacing":46,"hconcat":[
  {"width":271,"height":200,"title":"a","layer":[
   {"data":{"name":"ha"},"mark":{"type":"bar","fill":"#c3c3c3","stroke":"#555555","strokeWidth":1},
    "encoding":{"x":{"field":"x0","type":"quantitative","scale":{"domain":[0,8],"nice":false},"axis":{"values":[0,2,4,6,8],"title":"Time t (s)"}},"x2":{"field":"x1"},
     "y":{"field":"n","type":"quantitative","scale":{"domain":[0,40],"nice":false},"axis":{"values":[0,10,20,30,40],"title":"Counts","titlePadding":2}},"y2":{"datum":0}}},
   {"data":{"name":"max"},"mark":{"type":"tick","orient":"vertical","size":5},
    "encoding":{"x":{"field":"v","type":"quantitative"},"y":{"datum":0,"type":"quantitative"}}},
   {"data":{"name":"may"},"mark":{"type":"tick","orient":"horizontal","size":5},
    "encoding":{"y":{"field":"v","type":"quantitative"},"x":{"datum":0,"type":"quantitative"}}},
   {"data":{"name":"ta"},"mark":{"type":"text","fontSize":15,"align":"center","baseline":"middle"},
    "encoding":{"x":{"field":"x","type":"quantitative"},"y":{"field":"y","type":"quantitative"},"text":{"field":"s"}}}]},
  {"width":272,"height":200,"title":"b","layer":[
   {"data":{"name":"hb"},"mark":{"type":"bar","fill":"#c3c3c3","stroke":"#555555","strokeWidth":1},
    "encoding":{"x":{"field":"x0","type":"quantitative","scale":{"domain":[0,2.25],"nice":false},"axis":{"values":[0,0.5,1,1.5,2],"format":"~g","title":"Displacement d (μm)"}},"x2":{"field":"x1"},
     "y":{"field":"n","type":"quantitative","scale":{"domain":[0,40],"nice":false},"axis":{"values":[0,20,40],"labelExpr":"datum.value == 40 ? '30' : datum.label","title":"Counts"}},"y2":{"datum":0}}},
   {"data":{"name":"mbx"},"mark":{"type":"tick","orient":"vertical","size":5},
    "encoding":{"x":{"field":"v","type":"quantitative"},"y":{"datum":0,"type":"quantitative"}}},
   {"data":{"name":"mby"},"mark":{"type":"tick","orient":"horizontal","size":5},
    "encoding":{"y":{"field":"v","type":"quantitative"},"x":{"datum":0,"type":"quantitative"}}},
   {"data":{"name":"tb"},"mark":{"type":"text","fontSize":15,"align":"center","baseline":"middle"},
    "encoding":{"x":{"field":"x","type":"quantitative"},"y":{"field":"y","type":"quantitative"},"text":{"field":"s"}}}]}
 ]},
 {"bounds":"flush","spacing":35,"hconcat":[
  {"width":281,"height":200,"title":"c","layer":[
   {"data":{"name":"msd"},"transform":[{"filter":"datum.s == 'A'"}],"mark":{"type":"line","interpolate":"monotone","color":"#1b8a8c","strokeWidth":1.5},
    "encoding":{"x":{"field":"t","type":"quantitative","scale":{"domain":[0,1.1],"nice":false,"range":[9,281]},"axis":{"values":[0,0.2,0.4,0.6,0.8,1],"format":"~g","title":"Lag time τ (s)"}},
     "y":{"field":"m","type":"quantitative","scale":{"domain":[0,0.15],"nice":false},"axis":{"values":[0,0.05,0.1,0.15],"format":"~g","title":"MSD (μm²)","offset":-9,"titlePadding":2}}}},
   {"data":{"name":"msd"},"transform":[{"filter":"datum.s == 'B'"}],"mark":{"type":"line","interpolate":"monotone","color":"#f5a32a","strokeWidth":1.5},
    "encoding":{"x":{"field":"t","type":"quantitative"},"y":{"field":"m","type":"quantitative"}}},
   {"data":{"name":"mcx"},"mark":{"type":"tick","orient":"vertical","size":5},
    "encoding":{"x":{"field":"v","type":"quantitative"},"y":{"datum":0,"type":"quantitative"}}},
   {"data":{"name":"mcy"},"mark":{"type":"tick","orient":"horizontal","size":5},
    "encoding":{"y":{"field":"v","type":"quantitative"},"x":{"datum":0,"type":"quantitative"}}},
   {"data":{"name":"msd"},"mark":{"type":"rule","color":"#000","strokeWidth":1},
    "encoding":{"x":{"field":"t","type":"quantitative"},"y":{"field":"lo","type":"quantitative"},"y2":{"field":"hi"}}},
   {"data":{"name":"msd"},"mark":{"type":"tick","orient":"horizontal","color":"#000","size":6,"thickness":1},
    "encoding":{"x":{"field":"t","type":"quantitative"},"y":{"field":"lo","type":"quantitative"}}},
   {"data":{"name":"msd"},"mark":{"type":"tick","orient":"horizontal","color":"#000","size":6,"thickness":1},
    "encoding":{"x":{"field":"t","type":"quantitative"},"y":{"field":"hi","type":"quantitative"}}},
   {"data":{"name":"msd"},"mark":{"type":"point","filled":true,"color":"#000","opacity":1,"size":28},
    "encoding":{"x":{"field":"t","type":"quantitative"},"y":{"field":"m","type":"quantitative"},"shape":{"field":"s","type":"nominal","scale":{"domain":["A","B"],"range":["triangle-up","square"]},"legend":null}}},
   {"data":{"name":"lg"},"transform":[{"filter":"datum.s == 'A'"}],"mark":{"type":"rule","strokeWidth":1.5,"color":"#1b8a8c"},
    "encoding":{"x":{"field":"x0","type":"quantitative"},"x2":{"field":"x1"},"y":{"field":"y","type":"quantitative"}}},
   {"data":{"name":"lg"},"transform":[{"filter":"datum.s == 'B'"}],"mark":{"type":"rule","strokeWidth":1.5,"color":"#f5a32a"},
    "encoding":{"x":{"field":"x0","type":"quantitative"},"x2":{"field":"x1"},"y":{"field":"y","type":"quantitative"}}},
   {"data":{"name":"lg"},"mark":{"type":"point","filled":true,"color":"#000","opacity":1,"size":28},
    "encoding":{"x":{"field":"xm","type":"quantitative"},"y":{"field":"y","type":"quantitative"},"shape":{"field":"s","type":"nominal","legend":null}}},
   {"data":{"name":"lg"},"mark":{"type":"text","fontSize":16,"align":"left","baseline":"middle"},
    "encoding":{"x":{"field":"xt","type":"quantitative"},"y":{"field":"y","type":"quantitative"},"text":{"field":"txt"}}},
   {"data":{"name":"tc"},"mark":{"type":"text","fontSize":15,"align":"left","baseline":"middle"},
    "encoding":{"x":{"field":"x","type":"quantitative"},"y":{"field":"y","type":"quantitative"},"text":{"field":"s"}}}]},
  {"width":272,"height":200,"title":"d","layer":[
   {"data":{"name":"hd"},"mark":{"type":"bar","fill":"#c3c3c3","stroke":"#555555","strokeWidth":1},
    "encoding":{"x":{"field":"x0","type":"quantitative","scale":{"domain":[0,1.2],"nice":false},"axis":{"values":[0,0.2,0.4,0.6,0.8,1,1.2],"format":"~g","title":"Speed υ (μm/s)"}},"x2":{"field":"x1"},
     "y":{"field":"n","type":"quantitative","scale":{"domain":[0,35],"nice":false},"axis":{"values":[0,10,20,30],"title":"Counts"}},"y2":{"datum":0}}},
   {"data":{"name":"mdx"},"mark":{"type":"tick","orient":"vertical","size":5},
    "encoding":{"x":{"field":"v","type":"quantitative"},"y":{"datum":0,"type":"quantitative"}}},
   {"data":{"name":"mdy"},"mark":{"type":"tick","orient":"horizontal","size":5},
    "encoding":{"y":{"field":"v","type":"quantitative"},"x":{"datum":0,"type":"quantitative"}}},
   {"data":{"name":"fit"},"mark":{"type":"line","color":"#e8168c","strokeWidth":1.5,"interpolate":"monotone"},
    "encoding":{"x":{"field":"x","type":"quantitative"},"y":{"field":"y","type":"quantitative"}}},
   {"data":{"name":"td"},"mark":{"type":"text","fontSize":15,"align":"center","baseline":"middle"},
    "encoding":{"x":{"field":"x","type":"quantitative"},"y":{"field":"y","type":"quantitative"},"text":{"field":"s"}}}]}
 ]},
 {"bounds":"flush","spacing":0,"hconcat":[
  {"width":280,"height":257,"title":{"text":"e","offset":-2},"layer":[
   {"data":{"name":"et"},"transform":[{"filter":"datum.k == 'Directed'"}],"mark":{"type":"line","strokeWidth":1.3,"color":"#ef1a8f"},
    "encoding":{"x":{"field":"t","type":"quantitative","scale":{"domain":[1.283,7.37],"nice":false,"zero":false},"axis":null},
     "y":{"field":"y","type":"quantitative","scale":{"domain":[0,6.946],"nice":false},"axis":null},"detail":{"field":"g"}}},
   {"data":{"name":"et"},"transform":[{"filter":"datum.k == 'Diffusive'"}],"mark":{"type":"line","strokeWidth":1.3,"color":"#2e9636"},
    "encoding":{"x":{"field":"t","type":"quantitative"},"y":{"field":"y","type":"quantitative"},"detail":{"field":"g"}}},
   {"data":{"name":"et"},"transform":[{"filter":"datum.k == 'Stationary'"}],"mark":{"type":"line","strokeWidth":1.3,"color":"#3db1e6"},
    "encoding":{"x":{"field":"t","type":"quantitative"},"y":{"field":"y","type":"quantitative"},"detail":{"field":"g"}}},
   {"data":{"name":"el"},"transform":[{"filter":"datum.k == 'Directed'"}],"mark":{"type":"text","fontSize":16,"align":"center","baseline":"middle","color":"#ef1a8f"},
    "encoding":{"x":{"field":"t","type":"quantitative"},"y":{"field":"y","type":"quantitative"},"text":{"field":"k"}}},
   {"data":{"name":"el"},"transform":[{"filter":"datum.k == 'Diffusive'"}],"mark":{"type":"text","fontSize":16,"align":"center","baseline":"middle","color":"#2e9636"},
    "encoding":{"x":{"field":"t","type":"quantitative"},"y":{"field":"y","type":"quantitative"},"text":{"field":"k"}}},
   {"data":{"name":"el"},"transform":[{"filter":"datum.k == 'Stationary'"}],"mark":{"type":"text","fontSize":16,"align":"center","baseline":"middle","color":"#3db1e6"},
    "encoding":{"x":{"field":"t","type":"quantitative"},"y":{"field":"y","type":"quantitative"},"text":{"field":"k"}}},
   {"data":{"name":"esb"},"mark":{"type":"rule","color":"#000","strokeWidth":1},
    "encoding":{"x":{"field":"x0","type":"quantitative"},"x2":{"field":"x1"},"y":{"field":"y0","type":"quantitative"},"y2":{"field":"y1"}}},
   {"data":{"name":"etr"},"mark":{"type":"text","fontSize":15,"baseline":"middle","align":"right"},
    "encoding":{"x":{"field":"t","type":"quantitative"},"y":{"field":"y","type":"quantitative"},"text":{"field":"s"}}},
   {"data":{"name":"etc"},"mark":{"type":"text","fontSize":15,"baseline":"middle","align":"center"},
    "encoding":{"x":{"field":"t","type":"quantitative"},"y":{"field":"y","type":"quantitative"},"text":{"field":"s"}}}]},
  {"width":319,"height":257,"title":{"text":"f","dx":38,"dy":4,"offset":-2},"layer":[
   {"data":{"name":"fg"},"mark":{"type":"line","color":"#cdc8bf","strokeWidth":1.4},
    "encoding":{"x":{"field":"t","type":"quantitative","scale":{"domain":[0,3],"nice":false},"axis":null},
     "y":{"field":"v","type":"quantitative","scale":{"domain":[-1.053,5.711],"nice":false,"zero":false},"axis":null},"detail":{"field":"k"}}},
   {"data":{"name":"fp"},"mark":{"type":"line","color":"#7b3a9e","strokeWidth":1.5},
    "encoding":{"x":{"field":"t","type":"quantitative"},"y":{"field":"v","type":"quantitative"},"detail":{"field":"k"}}},
   {"data":{"name":"fb"},"mark":{"type":"rule","color":"#2a8fd6","strokeWidth":1.6},
    "encoding":{"y":{"field":"y","type":"quantitative"}}},
   {"data":{"name":"fa"},"mark":{"type":"rule","color":"#111","strokeWidth":1.3,"yOffset":-8,"y2Offset":-21},
    "encoding":{"x":{"field":"t","type":"quantitative"},"y":{"field":"y","type":"quantitative"},"y2":{"field":"y"}}},
   {"data":{"name":"fa"},"mark":{"type":"point","shape":"triangle-down","filled":true,"color":"#111","opacity":1,"size":110,"yOffset":-5},
    "encoding":{"x":{"field":"t","type":"quantitative"},"y":{"field":"y","type":"quantitative"}}},
   {"data":{"name":"fsb"},"mark":{"type":"rule","color":"#000","strokeWidth":1},
    "encoding":{"x":{"field":"x0","type":"quantitative"},"x2":{"field":"x1"},"y":{"field":"y0","type":"quantitative"},"y2":{"field":"y1"}}},
   {"data":{"name":"ftr"},"mark":{"type":"text","fontSize":15,"baseline":"middle","align":"right"},
    "encoding":{"x":{"field":"t","type":"quantitative"},"y":{"field":"y","type":"quantitative"},"text":{"field":"s"}}},
   {"data":{"name":"ftc"},"mark":{"type":"text","fontSize":15,"baseline":"middle","align":"center"},
    "encoding":{"x":{"field":"t","type":"quantitative"},"y":{"field":"y","type":"quantitative"},"text":{"field":"s"}}}]}
 ]}
]
}
